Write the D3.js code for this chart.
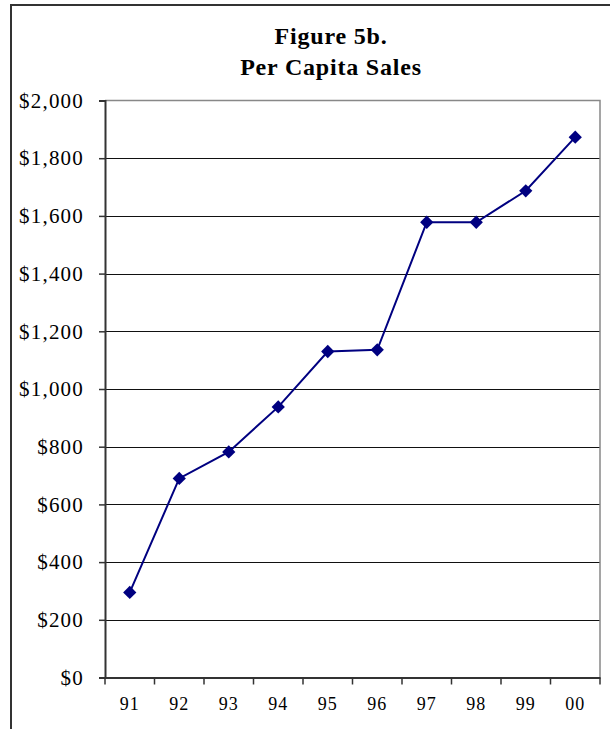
<!DOCTYPE html>
<html>
<head>
<meta charset="utf-8">
<script src="https://cdn.jsdelivr.net/npm/d3@7"></script>
<style>
  html, body { margin: 0; padding: 0; background: #fff; }
  svg { display: block; }
</style>
</head>
<body>
<div id="chart"></div>
<script>
// Figure 5b. Per Capita Sales
const years = ['91', '92', '93', '94', '95', '96', '97', '98', '99', '00'];
const perCapita = [295, 690, 782, 938, 1130, 1136, 1578, 1578, 1687, 1873];
const yTicks = [0, 200, 400, 600, 800, 1000, 1200, 1400, 1600, 1800, 2000];
const titleLines = ['Figure 5b.', 'Per Capita Sales'];

const W = 610, H = 729;
const plot = { left: 105, top: 100.5, right: 600, bottom: 677.5 };
const serif = "'Liberation Serif', 'Times New Roman', serif";

const svg = d3.select('#chart').append('svg')
  .attr('width', W).attr('height', H);

// outer chart frame (runs off the right and bottom)
svg.append('rect')
  .attr('x', 11).attr('y', 5)
  .attr('width', W + 20).attr('height', H + 20)
  .attr('fill', 'none').attr('stroke', '#333').attr('stroke-width', 2);

// title
svg.append('g').selectAll('text')
  .data(titleLines)
  .join('text')
  .attr('x', 331)
  .attr('y', (d, i) => 43.5 + i * 31)
  .attr('text-anchor', 'middle')
  .attr('font-family', serif)
  .attr('font-weight', 'bold')
  .attr('font-size', '24px')
  .attr('letter-spacing', '0.8px')
  .text(d => d);

const x = d3.scaleBand().domain(years)
  .range([plot.left, plot.right]).paddingInner(0).paddingOuter(0);
const y = d3.scaleLinear().domain([0, 2000])
  .range([plot.bottom, plot.top]);

// ─── gridlines ───
svg.append('g').selectAll('line')
  .data(yTicks.filter(v => v > 0 && v < 2000))
  .join('line')
  .attr('x1', plot.left).attr('x2', plot.right)
  .attr('y1', d => Math.round(y(d)) + 0.5).attr('y2', d => Math.round(y(d)) + 0.5)
  .attr('stroke', '#111').attr('stroke-width', 1.2);

// plot border top & right
svg.append('path')
  .attr('d', `M${plot.left},${plot.top}H${plot.right}V${plot.bottom}`)
  .attr('fill', 'none').attr('stroke', '#888').attr('stroke-width', 1.5);

// ─── y axis ───
const yAxis = svg.append('g')
  .attr('transform', `translate(${plot.left},0)`)
  .call(d3.axisLeft(y).tickValues(yTicks).tickSize(6).tickPadding(15)
    .tickFormat(d => '$' + d3.format(',')(d)));
yAxis.select('.domain').attr('stroke', '#333').attr('stroke-width', 2);
yAxis.selectAll('.tick line').attr('stroke', '#333').attr('stroke-width', 1.5);
yAxis.selectAll('.tick text')
  .attr('font-family', serif).attr('font-size', '21px')
  .attr('letter-spacing', '1.2px').attr('fill', '#000');

// ─── x axis ───
const xAxis = svg.append('g')
  .attr('transform', `translate(0,${plot.bottom})`)
  .call(d3.axisBottom(x).tickSize(0).tickPadding(20));
xAxis.select('.domain').attr('stroke', '#333').attr('stroke-width', 2);
xAxis.selectAll('.tick text')
  .attr('font-family', serif).attr('font-size', '18px')
  .attr('letter-spacing', '1px').attr('fill', '#000');
// tick marks between categories
xAxis.append('g').selectAll('line')
  .data(years.concat(['end']))
  .join('line')
  .attr('x1', (d, i) => plot.left + i * x.step())
  .attr('x2', (d, i) => plot.left + i * x.step())
  .attr('y1', 0).attr('y2', 7)
  .attr('stroke', '#333').attr('stroke-width', 1.5);

// ─── data line ───
const cx = d => x(d) + x.bandwidth() / 2;
const line = d3.line()
  .x((d, i) => cx(years[i]))
  .y(d => y(d));

svg.append('path')
  .datum(perCapita)
  .attr('d', line)
  .attr('fill', 'none')
  .attr('stroke', '#000080')
  .attr('stroke-width', 2);

const diamond = d3.symbol().type(d3.symbolSquare).size(88);
svg.append('g').selectAll('path')
  .data(perCapita)
  .join('path')
  .attr('d', diamond)
  .attr('transform', (d, i) => `translate(${cx(years[i])},${y(d)}) rotate(45)`)
  .attr('fill', '#000080');
</script>
</body>
</html>
